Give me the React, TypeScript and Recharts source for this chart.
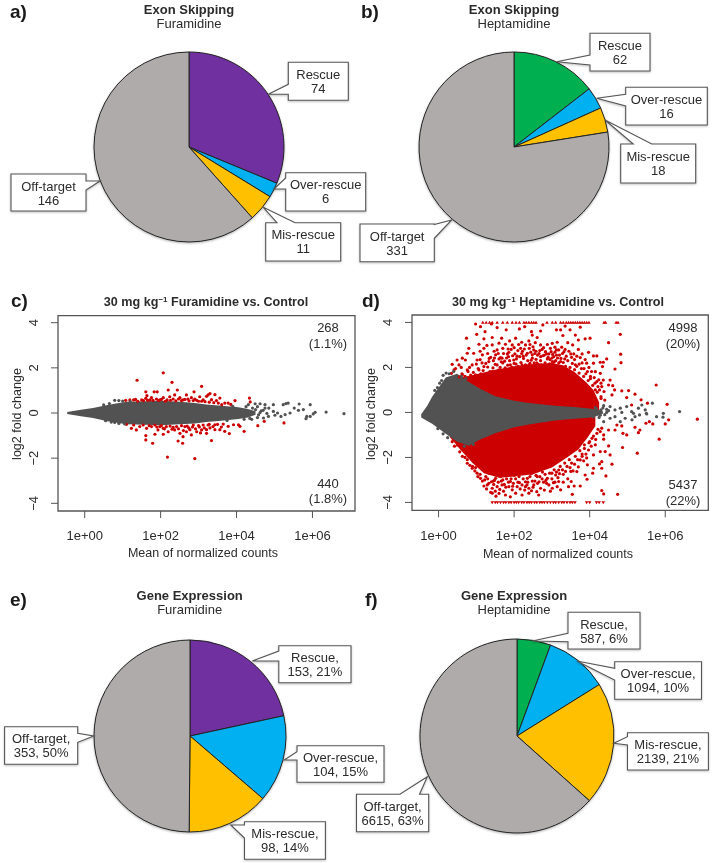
import { Area, Cell, ComposedChart, Pie, PieChart, ReferenceArea, Scatter, XAxis, YAxis } from "recharts"

const FONT = "'Liberation Sans', Arial, sans-serif"
const TEXT = "#2b2b2b"
const LINE = "#555"
const GREY_PT = "#525252"
const RED_PT = "#cc0000"

// pies
const aLabels = ["Rescue", "Over-rescue", "Mis-rescue", "Off-target"]
const aValues = [74, 6, 11, 146]
const aColors = ["#7030a0", "#00b0f0", "#ffc000", "#afabab"]
const bValues = [62, 16, 18, 331]
const bColors = ["#00b050", "#00b0f0", "#ffc000", "#afabab"]
const eValues = [153, 104, 98, 353]
const fValues = [587, 1094, 2139, 6615]

// MA plots, rows are [log10 mean count, log2 fold change]
const xTicks = [1, 100, 10000, 1000000]
const yTicks = [-4, -2, 0, 2, 4]

// envelope of the solid clouds: [log10 mean count, low, high]
const cGreyBand = [
  [-0.46, -0.04, 0.04], [-0.1, -0.14, 0.14], [0.22, -0.22, 0.22], [0.6, -0.36, 0.36], [1.1, -0.5, 0.5],
  [1.6, -0.52, 0.52], [2, -0.54, 0.54], [2.5, -0.5, 0.5], [2.9, -0.46, 0.44], [3.2, -0.4, 0.38],
  [3.6, -0.34, 0.32], [4.05, -0.27, 0.25], [4.3, -0.2, 0.18], [4.5, -0.08, 0.08],
]
const dGreyBand = [
  [-0.46, -0.22, -0.08], [-0.3, -0.38, 0.3], [-0.17, -0.5, 0.7], [0.19, -0.95, 1.55], [0.49, -1.3, 1.72],
  [0.8, -1.48, 1.35], [1.1, -1.2, 1.05], [1.5, -0.92, 0.72], [2, -0.66, 0.52], [2.39, -0.54, 0.42],
  [3.08, -0.36, 0.3], [3.6, -0.28, 0.24], [4, -0.24, 0.18], [4.2, -0.16, 0.12], [4.35, -0.06, 0.05],
]
const dRedUpper = [
  [0.6, 0.3, 1.55], [1, 0.3, 1.7], [1.5, 0.3, 1.9], [2, 0.2, 2.05], [2.5, 0.2, 2.15], [3, 0.2, 2.2],
  [3.3, 0.2, 2.1], [3.6, 0.2, 1.8], [3.9, 0.1, 1.35], [4.1, 0.1, 1], [4.25, 0.1, 0.45],
]
const dRedLower = [
  [0.3, -1.1, -0.5], [0.6, -1.7, -0.5], [0.9, -2.25, -0.5], [1.2, -2.7, -0.5], [1.6, -2.9, -0.4], [2, -2.85, -0.3],
  [2.5, -2.75, -0.3], [3, -2.45, -0.2], [3.4, -2, -0.2], [3.7, -1.65, -0.2], [3.95, -1.1, -0.1], [4.15, -0.6, -0.1],
]

const cRed = [
  [1.38, 1.45], [2.3, 1.36], [3.08, 1.18], [2.07, 1.78], [2.2, 1.02], [2.44, 1.02], [1.83, 0.94], [1.91, 0.94],
  [1.61, 0.94], [2.88, 0.94], [1.64, 0.77], [1.76, 0.68], [1.89, 0.62], [2.07, 0.68], [2.24, 0.72], [2.37, 0.8],
  [2.51, 0.68], [2.68, 0.8], [2.81, 0.68], [3.03, 0.72], [3.25, 0.8], [1.19, 0.58], [1.29, 0.58], [1.5, 0.58],
  [1.61, 0.65], [1.72, 0.58], [1.98, 0.58], [2.17, 0.58], [2.33, 0.62], [2.59, 0.58], [2.9, 0.62], [3.12, 0.58],
  [3.3, 0.86], [3.43, 0.81], [3.21, 0.74], [3.56, 0.66], [3.34, 0.59], [3.47, 0.55], [3.78, 0.44], [3.96, 0.55],
  [3.69, 0.44], [3.61, 0.37], [4.34, 0.66], [4.36, 0.49], [1.4, 0.52], [2.75, 0.54], [3.0, 0.52], [2.12, 0.52],
  [1.08, 0.56], [1.34, 0.6], [1.55, 0.55], [1.66, 0.56], [1.8, 0.56], [1.94, 0.55], [2.02, 0.6], [2.26, 0.56],
  [2.4, 0.54], [2.47, 0.62], [2.55, 0.55], [2.64, 0.6], [2.72, 0.62], [2.86, 0.55], [2.95, 0.56], [3.08, 0.52],
  [3.17, 0.5], [3.28, 0.48], [3.4, 0.46], [3.52, 0.44], [3.85, 0.38],
  [2.18, -1.95], [2.9, -2.02], [1.61, -1.0], [1.61, -1.19], [1.79, -1.34], [2.46, -1.24], [2.58, -1.34],
  [1.85, -0.94], [2.07, -0.94], [1.1, -0.5], [1.23, -0.68], [1.36, -0.75], [1.45, -0.6], [1.63, -0.68],
  [1.76, -0.6], [1.93, -0.75], [2.07, -0.68], [2.2, -0.83], [2.37, -0.75], [2.51, -0.9], [2.68, -0.83],
  [2.81, -0.97], [2.95, -0.83], [3.08, -0.75], [3.21, -0.9], [1.29, -0.53], [1.54, -0.53], [1.85, -0.53],
  [2.15, -0.6], [2.42, -0.6], [2.64, -0.6], [2.86, -0.53], [3.12, -0.53], [3.25, -0.53], [2.59, -1.05],
  [3.34, -1.22], [3.81, -0.91], [3.69, -0.81], [4.2, -0.81], [4.09, -0.59], [3.92, -0.52], [3.78, -0.59],
  [3.56, -0.74], [3.43, -0.74], [3.3, -0.66], [3.21, -0.74], [3.65, -0.49], [4.05, -0.52], [3.43, -0.52],
  [4.56, -0.56], [4.73, -0.37], [5.25, -0.44], [2.3, -0.72], [2.74, -0.66], [3.02, -0.62], [1.98, -0.6],
  [1.7, -0.56], [1.9, -0.62], [2.02, -0.56], [2.1, -0.7], [2.25, -0.58], [2.33, -0.64], [2.47, -0.7], [2.55, -0.56],
  [2.6, -0.78], [2.7, -0.58], [2.77, -0.74], [2.84, -0.62], [2.92, -0.7], [3.0, -0.56], [3.05, -0.88], [3.15, -0.66],
  [3.28, -0.5], [3.38, -0.6], [3.5, -0.5], [3.6, -0.62],
]
const cGrey = [
  [6.83, -0.03], [6.36, 0.04], [6.07, 0.03], [5.94, 0.37], [5.65, 0.4], [5.36, 0.44], [5.23, 0.37], [5.52, 0.22],
  [5.63, 0.12], [5.76, 0.15], [5.41, 0], [5.28, -0.07], [5.17, -0.15], [5.08, 0], [4.97, 0.07], [4.97, 0.37],
  [4.75, 0.37], [4.62, 0.41], [4.49, 0.41], [4.31, 0.37], [4.84, -0.15], [4.71, -0.22], [5.01, -0.1], [5.85, -0.15],
  [5.83, -0.25], [5.94, -0.15], [6.02, -0.04], [4.65, 0.1], [4.85, 0.22], [4.75, 0.22], [5.3, 0.42], [0.79, 0.56],
  [0.9, 0.55], [1.0, 0.53], [0.79, -0.42], [0.9, -0.46], [4.55, -0.2], [4.4, -0.28], [4.5, 0.15], [4.58, -0.08],
  [4.42, 0.22], [4.35, -0.24], [4.25, 0.28], [4.2, -0.28], [4.62, 0.02], [4.7, 0.12], [4.8, -0.02], [4.55, 0.28],
  [0.5, 0.36], [0.65, 0.42], [0.55, -0.34], [0.7, -0.4], [1.2, 0.5], [1.05, -0.48], [3.9, 0.3], [3.75, -0.33],
]

const dRedTop = [
  [0.98, 3.93], [1.11, 3.81], [1.23, 3.59], [1.01, 3.47], [0.74, 3.3], [1.4, 3.93], [1.55, 3.77], [1.79, 3.67],
  [2.14, 3.71], [2.28, 3.81], [2.46, 3.59], [2.7, 3.62], [2.76, 3.89], [3.12, 3.67], [3.23, 3.67], [2.48, 3.44],
  [2.61, 3.33], [1.2, 3.27], [1.42, 3.33], [1.67, 3.3], [2.04, 3.3], [2.39, 3.18], [2.3, 3], [3.01, 3.07],
  [3.14, 3.12], [1.07, 3.03], [1.42, 3], [1.77, 3.03], [1.95, 3], [0.8, 2.85], [1.2, 2.85], [1.55, 2.78],
  [2.17, 2.85], [2.7, 3], [0.76, 2.63], [0.93, 2.63], [1.16, 2.56], [1.51, 2.56], [1.86, 2.67], [2.35, 2.63],
  [2.83, 2.7], [3.18, 2.78], [0.63, 2.41], [0.49, 2.33], [0.71, 2.33], [1.02, 2.33], [1.33, 2.26], [1.68, 2.41],
  [1.99, 2.33], [2.48, 2.41], [2.7, 2.48], [3.05, 2.48], [0.36, 2.14], [0.54, 2.11], [0.89, 2.11], [1.2, 2.04],
  [1.55, 2.11], [1.9, 2.11], [2.21, 2.11], [3.01, 2.26], [3.23, 2.26], [0.41, 1.89], [0.76, 1.89], [1.07, 1.89],
  [1.42, 1.81], [1.77, 1.89], [2.39, 2.11], [0.34, 1.74], [0.63, 1.67], [0.98, 1.67], [2.6, 2.2], [2.95, 2.35],
  [2.05, 2.15], [2.55, 2.62], [2.9, 2.45], [1.3, 2.62], [1.75, 2.28], [2.25, 2.4], [3.1, 2.3],
  [3.35, 3.84], [3.48, 3.67], [3.75, 3.79], [3.29, 3.42], [3.62, 3.44], [3.88, 3.27], [4.01, 3.3], [3.7, 3.22],
  [4.5, 3.1], [4.81, 3.47], [4.82, 2.59], [4.83, 2.21], [4.67, 1.93], [3.97, 2.67], [4.1, 2.51], [4.19, 2.51],
  [3.75, 2.44], [4.45, 2.38], [4.36, 2.23], [4.28, 2.23], [4.1, 2.19], [3.92, 2.19], [4.34, 2.04], [4.15, 1.81],
  [4.28, 1.74], [4.36, 1.44], [4.54, 1.44], [4.5, 1.22], [4.61, 1.19], [4.66, 1], [4.85, 0.96], [5.03, 0.97],
  [4.98, 0.66], [5.2, 0.81], [4.59, 0.78], [5.76, 1.22], [6.05, 0.36], [5.53, 0.41], [5.36, 0.56], [5.11, 0.33],
  [4.19, 1.37], [4.32, 1.15], [4.15, 1], [4.38, 0.93], [3.5, 2.6], [3.35, 2.8], [3.8, 2.6], [3.6, 2.35],
  [3.85, 1.95], [4.02, 1.6], [4.22, 1.15], [4.4, 0.55], [4.3, 0.62], [3.55, 3.0], [3.42, 3.1], [3.7, 2.8],
]
// the rugged top edge of the solid red, and the stipple just above it
const dRedTopEdge = [
  [0.55, 1.58], [0.62, 1.72], [0.7, 1.6], [0.78, 1.82], [0.85, 1.66], [0.92, 1.78], [1, 1.6], [1.05, 1.95], [1.12, 1.72],
  [1.18, 1.86], [1.25, 1.68], [1.3, 2.02], [1.36, 1.82], [1.44, 1.98], [1.5, 2.14], [1.58, 1.88], [1.63, 2], [1.7, 2.2],
  [1.76, 1.98], [1.83, 2.1], [1.88, 2.3], [1.94, 2.02], [2, 2.18], [2.06, 2.38], [2.11, 2.05], [2.18, 2.22], [2.24, 2.5],
  [2.3, 2.12], [2.36, 2.3], [2.42, 2.18], [2.48, 2.56], [2.53, 2.2], [2.58, 2.36], [2.64, 2.14], [2.7, 2.3], [2.76, 2.52],
  [2.82, 2.2], [2.88, 2.38], [2.94, 2.16], [3, 2.42], [3.06, 2.25], [3.12, 2.55], [3.18, 2.2], [3.24, 2.4], [3.3, 2.22],
  [3.36, 2.05], [3.42, 2.3], [3.48, 2], [3.54, 2.18], [3.6, 1.9], [3.66, 2.05], [3.72, 1.75], [3.78, 1.95], [3.84, 1.6],
  [3.9, 1.72], [3.96, 1.42], [4.02, 1.5], [4.08, 1.2], [4.14, 1.3], [4.2, 0.9], [4.26, 1], [4.3, 0.7],
  [1.1, 2.35], [1.25, 2.18], [1.38, 2.45], [1.47, 2.72], [1.6, 2.38], [1.72, 2.62], [1.85, 2.48], [1.92, 2.8], [2.02, 2.6],
  [2.1, 2.75], [2.2, 2.62], [2.27, 2.82], [2.4, 2.85], [2.52, 2.78], [2.62, 2.55], [2.68, 2.75], [2.78, 2.88], [2.86, 2.6],
  [2.98, 2.7], [3.08, 2.68], [3.15, 2.42], [3.28, 2.62], [3.38, 2.5], [3.45, 2.72], [3.58, 2.6], [3.66, 2.5], [3.72, 2.15],
  [3.88, 2.35], [3.98, 2], [4.05, 1.82], [4.12, 1.55], [4.24, 1.45], [4.3, 1.3], [0.45, 1.95], [0.6, 2.0], [0.82, 2.0],
  [1.0, 2.15], [1.15, 2.2], [1.45, 2.3], [1.66, 2.25], [1.8, 2.42], [2.15, 2.48], [2.45, 2.32], [2.72, 2.12], [3.04, 2.12],
  [3.34, 2.38], [3.52, 2.45], [3.62, 2.12], [3.8, 2.2], [3.94, 1.82],
  [1.34, 2.4], [1.48, 2.42], [1.58, 2.62], [1.64, 2.44], [1.82, 2.6], [1.96, 2.52], [2.08, 2.5], [2.22, 2.72], [2.32, 2.55],
  [2.44, 2.68], [2.5, 2.92], [2.58, 2.72], [2.66, 2.62], [2.74, 2.8], [2.8, 2.55], [2.92, 2.6], [2.96, 2.85], [3.02, 2.58],
  [3.12, 2.78], [3.2, 2.55], [3.26, 2.9], [3.32, 2.7], [1.7, 2.85], [1.84, 2.82], [2.0, 2.88], [2.12, 3.02], [2.42, 3.02],
  [2.56, 3.1], [2.88, 3.02], [3.08, 2.9], [1.1, 2.72], [1.28, 2.98], [1.6, 3.08], [1.88, 3.18], [2.2, 3.12],
]
const dRedBottom = [
  [0.76, -2.26], [0.89, -2.48], [1.02, -2.7], [1.11, -2.93], [1.29, -3.22], [1.42, -3.37], [1.42, -3.59], [1.2, -3.27],
  [1.68, -3.22], [1.95, -3.44], [1.64, -2.85], [1.9, -3.07], [2.21, -3.22], [2.39, -3.37], [2.52, -3.22], [2.7, -3.37],
  [2.92, -3.22], [3.01, -3.37], [2.13, -2.85], [2.35, -2.93], [2.61, -2.85], [2.88, -2.93], [3.1, -2.78], [1.33, -2.7],
  [1.51, -2.93], [1.82, -2.7], [2.04, -3.59], [2.39, -3.59], [2.21, -3.67], [2.65, -3.67], [1.77, -3.67], [3.18, -3.07],
  [3.23, -3.44], [3.18, -2.56], [1.55, -3.3], [1.72, -3.5], [2.55, -3.05], [2.78, -3.1], [3, -2.7], [2, -2.8],
  [2.45, -2.72], [2.75, -2.65], [1.25, -2.85], [1.45, -3.05], [0.98, -2.45], [3.3, -2.75], [3.42, -2.95], [2.3, -3.08],
  [6.85, -0.3], [6.09, -0.33], [6, -0.51], [5.67, -0.51], [5.58, -0.41], [5.49, -0.48], [5.33, -0.78], [5.29, -0.9],
  [5.2, -0.66], [5.84, -1.19], [5.26, -1.81], [4.87, -1.56], [4.98, -1], [4.88, -0.93], [4.85, -0.6], [4.72, -0.56],
  [4.67, -0.78], [4.5, -0.78], [4.37, -1], [4.32, -0.7], [4.37, -1.19], [4.5, -1.49], [4.41, -1.74], [4.54, -1.89],
  [4.59, -2.3], [4.32, -2.19], [4.26, -2.29], [4.32, -2.48], [4.43, -2.82], [4.08, -2.7], [4.1, -2.48], [3.88, -2.78],
  [3.93, -2.97], [3.75, -3.27], [3.59, -3.27], [3.51, -3.07], [4.32, -3.47], [4.37, -3.62], [4.74, -3.64], [3.54, -3.64],
  [3.66, -2.63], [3.94, -2.33], [3.75, -2.11], [4.1, -1.89], [4.28, -1.74], [3.97, -1.67], [4.15, -1.44], [3.86, -1.44],
  [4.06, -1.15], [4.19, -0.93], [3.6, -2.3], [3.8, -1.85], [4, -1.3], [3.48, -2.45],
]
const dRedBottomEdge = [
  [0.36, -1.3], [0.42, -1.5], [0.5, -1.45], [0.56, -1.75], [0.63, -1.95], [0.7, -2], [0.76, -2.1], [0.83, -2.35], [0.9, -2.4],
  [0.96, -2.6], [1.04, -2.85], [1.1, -2.75], [1.16, -3.05], [1.22, -3], [1.27, -3.4], [1.33, -3.15], [1.38, -3.55], [1.46, -3.2],
  [1.5, -3.5], [1.58, -3.1], [1.6, -3.6], [1.7, -3], [1.74, -3.2], [1.8, -2.95], [1.86, -3.3], [1.92, -2.95], [1.98, -3.15],
  [2.04, -2.95], [2.1, -3.1], [2.16, -3.4], [2.24, -2.95], [2.3, -3.3], [2.36, -3.1], [2.42, -2.85], [2.48, -3.05], [2.58, -2.8],
  [2.62, -3.15], [2.68, -2.85], [2.74, -2.95], [2.82, -2.75], [2.86, -3.15], [2.94, -2.7], [3, -2.95], [3.06, -2.55], [3.12, -2.65],
  [3.16, -2.9], [3.22, -2.4], [3.28, -2.55], [3.34, -2.25], [3.4, -2.4], [3.46, -2.1], [3.52, -2.25], [3.56, -2.6], [3.62, -1.95],
  [3.68, -2.1], [3.74, -1.7], [3.8, -1.95], [3.86, -1.6], [3.9, -1.85], [3.98, -1.35], [4.04, -1.5], [4.1, -1.05], [4.16, -1.2],
  [4.22, -0.75], [4.28, -0.85], [1.3, -2.95], [1.4, -3.08], [1.62, -3.42], [1.85, -3.1], [2.08, -3.3], [2.28, -3.45], [2.46, -3.48],
  [2.6, -3.52], [2.8, -3.45], [2.96, -3.5], [3.08, -3.1], [3.14, -3.3], [3.3, -3.1], [3.44, -3.3], [1.52, -3.72], [1.9, -3.75],
  [1.48, -3.02], [1.66, -3.05], [1.78, -3.32], [1.96, -3.28], [2.14, -3.12], [2.34, -3.22], [2.5, -3.32], [2.66, -3.08],
  [2.84, -3.02], [3.04, -3.12], [3.2, -2.72], [3.36, -2.62], [3.5, -2.62], [3.7, -2.42], [3.84, -2.15], [3.92, -2.02],
]
const dGrey = [
  [5.66, 0.41], [5.38, 0.33], [5.29, 0.19], [5.11, 0.04], [4.98, 0.26], [4.81, 0.19], [4.67, 0.11], [4.54, 0.26],
  [4.37, 0.3], [4.23, 0.04], [4.45, 0], [6.38, 0.04], [5.95, -0.04], [5.47, 0.11], [5.5, -0.04], [5.16, -0.04],
  [4.85, 0], [5.94, -0.21], [5.77, -0.19], [5.51, -0.07], [5.32, -0.11], [5.2, -0.19], [5.12, -0.33], [4.94, -0.26],
  [4.81, -0.41], [4.67, -0.19], [4.54, -0.26], [4.37, -0.41], [4.15, 0.22], [4.25, -0.22], [4.3, 0.12], [4.45, 0.14],
  [0.12, 1.65], [0.2, 1.75], [0.03, 1.3], [0.28, 1.72], [4.1, -0.2], [4.18, 0.16], [4.28, -0.12], [4.35, 0.2], [4.5, 0.08],
  [4.4, -0.1], [-0.1, 0.98], [-0.03, 1.1], [0.08, 1.42], [0.4, 1.82], [0.6, 1.6], [0.72, 1.5], [-0.02, -0.72], [0.12, -0.95],
  [0.24, -1.12], [0.68, -1.5], [0.92, -1.42],
]
const dTopClipped = [
  1.17, 1.26, 1.35, 1.42, 1.55, 1.7, 1.82, 1.95, 2.05, 2.14, 2.26, 2.32, 2.39, 2.46, 2.52, 2.58, 2.87, 3.01, 3.1, 3.23,
  3.3, 3.38, 3.44, 3.5, 3.56, 3.62, 3.68, 3.74, 3.8, 3.86, 3.92, 3.98, 4.38, 4.42, 4.7, 4.75,
]
const dBottomClipped = [
  1.42, 1.5, 1.56, 1.64, 1.72, 1.78, 1.86, 1.92, 2, 2.06, 2.12, 2.2, 2.26, 2.34, 2.4, 2.46, 2.54, 2.6, 2.68, 2.74, 2.8,
  2.88, 2.96, 3.04, 3.1, 3.18, 3.26, 3.32, 3.4, 3.48, 3.54, 3.61, 3.92, 4, 4.18, 4.25, 4.36,
]

const points = (rows: number[][]) => rows.map(([e, y]) => ({ x: 10 ** e, y }))
const band = (rows: number[][]) => rows.map(([e, lo, hi]) => ({ x: 10 ** e, band: [lo, hi] }))
const clipped = (rows: number[], y: number) => rows.map((e) => ({ x: 10 ** e, y }))

const dot = (fill: string) => (p: any) => <circle cx={p.cx} cy={p.cy} r={1.6} fill={fill} />
const tri = (up: boolean) => (p: any) => {
  const s = up ? -1 : 1
  return <path d={`M${p.cx - 1.8} ${p.cy - s * 1.3}L${p.cx + 1.8} ${p.cy - s * 1.3}L${p.cx} ${p.cy + s * 1.8}Z`} fill={RED_PT} />
}

function XTick(p: any) {
  const exp = Math.round(Math.log10(p.payload.value))
  return (
    <text x={p.x} y={255} textAnchor="middle" fontFamily={FONT} fontSize={13} fill={TEXT}>
      {`1e+0${exp}`}
    </text>
  )
}

function YTick(p: any) {
  const label = String(p.payload.value).replace("-", "\u2212")
  return (
    <text transform={`translate(38 ${p.y}) rotate(-90)`} textAnchor="middle" fontFamily={FONT} fontSize={13} fill={TEXT}>
      {label}
    </text>
  )
}

function MAPlot({ left, xMax, yDomain, greyBand, greyPts, redPts, redBands, topClip, bottomClip, right, plotTop, plotBottom, width }: any) {
  return (
    <div style={{ position: "absolute", left, top: 285 }}>
      <ComposedChart width={width} height={285} margin={{ top: plotTop, right, bottom: 0, left: 0 }}>
        <XAxis
          dataKey="x"
          type="number"
          scale="log"
          domain={[0.198, xMax]}
          ticks={xTicks}
          allowDataOverflow
          height={plotBottom}
          axisLine={false}
          tickSize={7}
          tickLine={{ stroke: LINE }}
          tick={XTick}
          interval={0}
        />
        <YAxis type="number" domain={yDomain} ticks={yTicks} allowDataOverflow width={58} axisLine={false} tickSize={7} tickLine={{ stroke: LINE }} tick={YTick} interval={0} />
        {redBands.map((b: any, i: number) => (
          <Area key={i} data={b} dataKey="band" type="linear" stroke="none" fill={RED_PT} fillOpacity={1} isAnimationActive={false} />
        ))}
        <Area data={greyBand} dataKey="band" type="linear" stroke="none" fill={GREY_PT} fillOpacity={1} isAnimationActive={false} />
        <Scatter data={redPts} dataKey="y" shape={dot(RED_PT)} isAnimationActive={false} />
        <Scatter data={greyPts} dataKey="y" shape={dot(GREY_PT)} isAnimationActive={false} />
        {topClip && <Scatter data={topClip} dataKey="y" shape={tri(true)} isAnimationActive={false} />}
        {bottomClip && <Scatter data={bottomClip} dataKey="y" shape={tri(false)} isAnimationActive={false} />}
        <ReferenceArea x1={0.198} x2={xMax} y1={yDomain[0]} y2={yDomain[1]} fill="none" stroke={LINE} strokeWidth={1.3} ifOverflow="visible" />
      </ComposedChart>
    </div>
  )
}

function PiePanel({ cx, cy, r, values, colors }: any) {
  const size = r * 2 + 8
  const data = values.map((value: number, i: number) => ({ name: aLabels[i], value }))
  return (
    <div style={{ position: "absolute", left: cx - size / 2, top: cy - size / 2, filter: "drop-shadow(0 1px 1px rgba(0,0,0,.3))" }}>
      <PieChart width={size} height={size} margin={{ top: 0, right: 0, bottom: 0, left: 0 }}>
        <Pie data={data} dataKey="value" cx="50%" cy="50%" outerRadius={r} innerRadius={0} startAngle={90} endAngle={-270} stroke="#222" strokeWidth={1} isAnimationActive={false} legendType="none">
          {data.map((_: any, i: number) => (
            <Cell key={i} fill={colors[i]} />
          ))}
        </Pie>
      </PieChart>
    </div>
  )
}

// box x, y, w, h; pointer tip; side the pointer leaves from and where along it
function Callout({ box, tip, side, base, lines }: any) {
  const [x, y, w, h] = box
  const [t1, t2] = tip
  const [b1, b2] = base
  let d = ""
  if (side === "left") d = `M${x} ${y}H${x + w}V${y + h}H${x}V${b2}L${t1} ${t2}L${x} ${b1}Z`
  if (side === "right") d = `M${x} ${y}H${x + w}V${b1}L${t1} ${t2}L${x + w} ${b2}V${y + h}H${x}Z`
  if (side === "top") d = `M${x} ${y}H${b1}L${t1} ${t2}L${b2} ${y}H${x + w}V${y + h}H${x}Z`
  const mid = x + w / 2
  return (
    <g>
      <path d={d} fill="#fff" stroke={LINE} strokeWidth={1.1} style={{ filter: "drop-shadow(0 1px 1px rgba(0,0,0,.25))" }} />
      {lines.map((l: string, i: number) => (
        <text key={i} x={mid} y={y + 16.5 + i * 14} textAnchor="middle" fontSize={13} fill={TEXT}>
          {l}
        </text>
      ))}
    </g>
  )
}

function PanelTitle({ x, y, head, sub }: any) {
  return (
    <g textAnchor="middle">
      <text x={x} y={y} fontSize={13} fontWeight="bold" fill={TEXT}>
        {head}
      </text>
      <text x={x} y={y + 14} fontSize={13} fill={TEXT}>
        {sub}
      </text>
    </g>
  )
}

function MaTitle({ x, name }: any) {
  return (
    <text x={x} y={306} textAnchor="middle" fontSize={12.6} fontWeight="bold" fill={TEXT}>
      30 mg kg
      <tspan dy={-4} fontSize={8}>
        {"\u22121"}
      </tspan>
      <tspan dy={4}>{` ${name} vs. Control`}</tspan>
    </text>
  )
}

function Letter({ x, y, s }: any) {
  return (
    <text x={x} y={y} fontSize={19} fontWeight="bold" fill="#1a1a1a">
      {s}
    </text>
  )
}

export default function App() {
  return (
    <div style={{ position: "absolute", left: 0, top: 0, width: 713, height: 863, background: "#fff", overflow: "hidden", fontFamily: FONT, filter: "blur(0.4px)" }}>
      <PiePanel cx={189} cy={147} r={95} values={aValues} colors={aColors} />
      <PiePanel cx={514} cy={147} r={95} values={bValues} colors={bColors} />
      <PiePanel cx={190} cy={736} r={96} values={eValues} colors={aColors} />
      <PiePanel cx={516.5} cy={736} r={97} values={fValues} colors={bColors} />

      <MAPlot left={0} width={360} right={5} plotTop={30.7} plotBottom={59} xMax={1.32e7} yDomain={[-4.34, 4.31]} greyBand={band(cGreyBand)} greyPts={points(cGrey)} redPts={points(cRed)} redBands={[]} />
      <MAPlot
        left={354}
        width={359}
        right={4.7}
        plotTop={30}
        plotBottom={59.7}
        xMax={1.38e7}
        yDomain={[-4.35, 4.33]}
        greyBand={band(dGreyBand)}
        greyPts={points(dGrey)}
        redPts={points([...dRedTop, ...dRedTopEdge, ...dRedBottom, ...dRedBottomEdge])}
        redBands={[band(dRedUpper), band(dRedLower)]}
        topClip={clipped(dTopClipped, 4)}
        bottomClip={clipped(dBottomClipped, -4)}
      />

      <svg width={713} height={863} style={{ position: "absolute", left: 0, top: 0, pointerEvents: "none" }} fontFamily={FONT}>
        <Letter x={10} y={18} s="a)" />
        <Letter x={361} y={18} s="b)" />
        <Letter x={11} y={307} s="c)" />
        <Letter x={362} y={307} s="d)" />
        <Letter x={10} y={606} s="e)" />
        <Letter x={365} y={606} s="f)" />

        <PanelTitle x={189} y={14} head="Exon Skipping" sub="Furamidine" />
        <PanelTitle x={514} y={14} head="Exon Skipping" sub="Heptamidine" />
        <PanelTitle x={189.7} y={600} head="Gene Expression" sub="Furamidine" />
        <PanelTitle x={514} y={600} head="Gene Expression" sub="Heptamidine" />

        <Callout box={[288.3, 62.3, 60, 38]} tip={[268.3, 94.3]} side="left" base={[84.3, 94.3]} lines={["Rescue", "74"]} />
        <Callout box={[285.7, 172.7, 80, 38.3]} tip={[274, 189]} side="left" base={[178, 189]} lines={["Over-rescue", "6"]} />
        <Callout box={[265.7, 222.7, 75, 38.3]} tip={[263.3, 207.3]} side="top" base={[277, 295]} lines={["Mis-rescue", "11"]} />
        <Callout box={[11, 174, 75, 37]} tip={[100, 181]} side="right" base={[181, 190]} lines={["Off-target", "146"]} />

        <Callout box={[590, 33.3, 60, 37.7]} tip={[556.7, 61.7]} side="left" base={[55, 65]} lines={["Rescue", "62"]} />
        <Callout box={[625.7, 87.3, 81.6, 37.7]} tip={[596.7, 98.3]} side="left" base={[94.3, 106]} lines={["Over-rescue", "16"]} />
        <Callout box={[620.7, 144, 75, 39]} tip={[605, 120]} side="top" base={[633.3, 651.7]} lines={["Mis-rescue", "18"]} />
        <Callout box={[360, 224, 74.3, 37.7]} tip={[451.7, 220]} side="right" base={[224.5, 238.3]} lines={["Off-target", "331"]} />

        <Callout box={[278.8, 645.7, 72.2, 37]} tip={[252.3, 661]} side="left" base={[651, 661]} lines={["Rescue,", "153, 21%"]} />
        <Callout box={[297, 745.7, 87, 36.6]} tip={[284.3, 760]} side="left" base={[751.7, 760]} lines={["Over-rescue,", "104, 15%"]} />
        <Callout box={[244.5, 821.7, 80.9, 37.6]} tip={[230.8, 825]} side="left" base={[825, 838]} lines={["Mis-rescue,", "98, 14%"]} />
        <Callout box={[4.6, 726.7, 73.1, 37.6]} tip={[93.7, 736]} side="right" base={[733.3, 742.3]} lines={["Off-target,", "353, 50%"]} />

        <Callout box={[568, 612.3, 72, 36.7]} tip={[532.4, 641]} side="left" base={[633.3, 641.7]} lines={["Rescue,", "587, 6%"]} />
        <Callout box={[614.7, 661.7, 86.8, 37.6]} tip={[576.8, 661]} side="left" base={[668.3, 680]} lines={["Over-rescue,", "1094, 10%"]} />
        <Callout box={[627.5, 732.7, 80.9, 37.3]} tip={[613.8, 743.3]} side="left" base={[736.7, 745]} lines={["Mis-rescue,", "2139, 21%"]} />
        <Callout box={[356.5, 794.3, 72.2, 37.4]} tip={[427.3, 776.7]} side="top" base={[400, 419.5]} lines={["Off-target,", "6615, 63%"]} />

        <MaTitle x={206} name="Furamidine" />
        <MaTitle x={558} name="Heptamidine" />

        <g fontSize={13} fill={TEXT} textAnchor="middle">
          <text x={328} y={332}>268</text>
          <text x={328} y={348}>(1.1%)</text>
          <text x={328} y={488}>440</text>
          <text x={328} y={503}>(1.8%)</text>
          <text x={683} y={332}>4998</text>
          <text x={683} y={348}>(20%)</text>
          <text x={683} y={489}>5437</text>
          <text x={683} y={505}>(22%)</text>
        </g>

        <g fontSize={12.5} fill={TEXT} textAnchor="middle">
          <text x={203} y={557}>Mean of normalized counts</text>
          <text x={558} y={558}>Mean of normalized counts</text>
          <text transform="translate(21 414) rotate(-90)">log2 fold change</text>
          <text transform="translate(375 414) rotate(-90)">log2 fold change</text>
        </g>
      </svg>
    </div>
  )
}
